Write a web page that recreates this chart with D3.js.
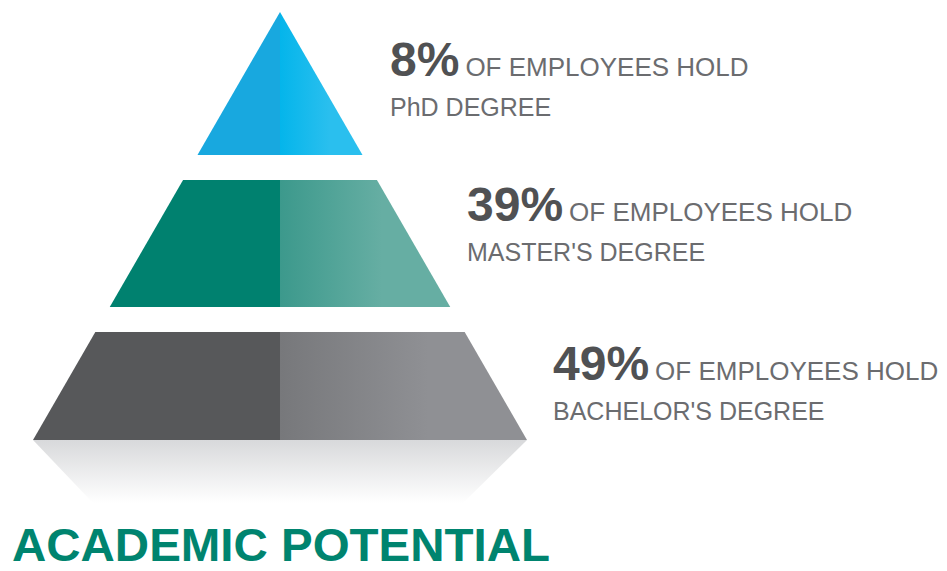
<!DOCTYPE html>
<html>
<head>
<meta charset="utf-8">
<script src="https://cdn.jsdelivr.net/npm/d3@7"></script>
<style>
  html, body { margin: 0; padding: 0; background: #ffffff; }
  svg { display: block; }
</style>
</head>
<body>
<svg></svg>
<script>
const [WIDTH, HEIGHT] = [947, 571]
const FONT = "'Liberation Sans', Arial, Helvetica, sans-serif"

// data, top tier first
const tiers = ["phd", "master", "bachelor"]
const shares = [8, 39, 49]
const degrees = ["PhD DEGREE", "MASTER'S DEGREE", "BACHELOR'S DEGREE"]
const caption = "OF EMPLOYEES HOLD"
const title = "ACADEMIC POTENTIAL"
const darkColors = ["#18a8df", "#00816f", "#57585a"]
const lightColors = [["#04b5eb", "#2abfee"], ["#3c998c", "#66aea3"], ["#77787b", "#8f9094"]]

// layout
const APEX_Y = 12
const BASE_Y = 440
const CENTER_X = 280
const tierTops = [12, 180, 332]
const tierBottoms = [155, 307, 440]
const labelX = [390, 467, 553]
const labelY = [76, 221, 380]

const canvas = d3.select("svg")
  .attr("width", WIDTH)
  .attr("height", HEIGHT)
  .attr("viewBox", `0 0 ${WIDTH} ${HEIGHT}`)

// half width of the pyramid at a given y
const halfWidth = d3.scaleLinear().domain([APEX_Y, BASE_Y]).range([0, 247])

const defs = canvas.append("defs")

tiers.forEach((tier, i) => {
  const gradient = defs.append("linearGradient")
    .attr("id", `light_${tier}`)
    .attr("x1", "0%").attr("x2", "100%")
    .attr("y1", "0%").attr("y2", "0%")
  gradient.append("stop").attr("offset", "0%").attr("stop-color", lightColors[i][0])
  gradient.append("stop").attr("offset", "60%").attr("stop-color", lightColors[i][1])
  gradient.append("stop").attr("offset", "100%").attr("stop-color", lightColors[i][1])
})

const shadow = defs.append("linearGradient")
  .attr("id", "reflection")
  .attr("x1", "0%").attr("x2", "0%")
  .attr("y1", "0%").attr("y2", "100%")
shadow.append("stop").attr("offset", "0%").attr("stop-color", "#d8d9db")
shadow.append("stop").attr("offset", "100%").attr("stop-color", "#ffffff")

const line = d3.line()

// reflection under the base
const reflectionDepth = 63
const baseHalf = halfWidth(BASE_Y)
canvas.append("path")
  .attr("d", line([
    [CENTER_X - baseHalf, BASE_Y],
    [CENTER_X + baseHalf, BASE_Y],
    [CENTER_X + baseHalf - 64, BASE_Y + reflectionDepth],
    [CENTER_X - baseHalf + 60, BASE_Y + reflectionDepth]
  ]) + "Z")
  .attr("fill", "url(#reflection)")

const tierData = tiers.map((tier, i) => ({
  tier, share: shares[i], degree: degrees[i], top: tierTops[i], bottom: tierBottoms[i], index: i
}))

const groups = canvas.selectAll("g.tier")
  .data(tierData)
  .enter()
  .append("g")
  .classed("tier", true)

// left (shaded) half
groups.append("path")
  .attr("d", (d) => line([
    [CENTER_X - halfWidth(d.top), d.top],
    [CENTER_X, d.top],
    [CENTER_X, d.bottom],
    [CENTER_X - halfWidth(d.bottom), d.bottom]
  ]) + "Z")
  .attr("fill", (d) => darkColors[d.index])

// right (lit) half
groups.append("path")
  .attr("d", (d) => line([
    [CENTER_X, d.top],
    [CENTER_X + halfWidth(d.top), d.top],
    [CENTER_X + halfWidth(d.bottom), d.bottom],
    [CENTER_X, d.bottom]
  ]) + "Z")
  .attr("fill", (d) => `url(#light_${d.tier})`)

// labels
const labels = groups.append("text")
  .attr("x", (d) => labelX[d.index])
  .attr("y", (d) => labelY[d.index])
  .attr("font-family", FONT)

labels.append("tspan")
  .attr("font-size", 48)
  .attr("font-weight", "bold")
  .attr("fill", "#505153")
  .text((d) => `${d.share}%`)

labels.append("tspan")
  .attr("dx", 6)
  .attr("font-size", 26)
  .attr("fill", "#6b6c6f")
  .text(caption)

groups.append("text")
  .attr("x", (d) => labelX[d.index])
  .attr("y", (d) => labelY[d.index] + 40)
  .attr("font-family", FONT)
  .attr("font-size", 25)
  .attr("fill", "#6b6c6f")
  .text((d) => d.degree)

canvas.append("text")
  .attr("x", 12)
  .attr("y", 561)
  .attr("font-family", FONT)
  .attr("font-size", 46)
  .attr("font-weight", "bold")
  .attr("fill", "#00846f")
  .attr("textLength", 538)
  .attr("lengthAdjust", "spacingAndGlyphs")
  .text(title)
</script>
</body>
</html>
